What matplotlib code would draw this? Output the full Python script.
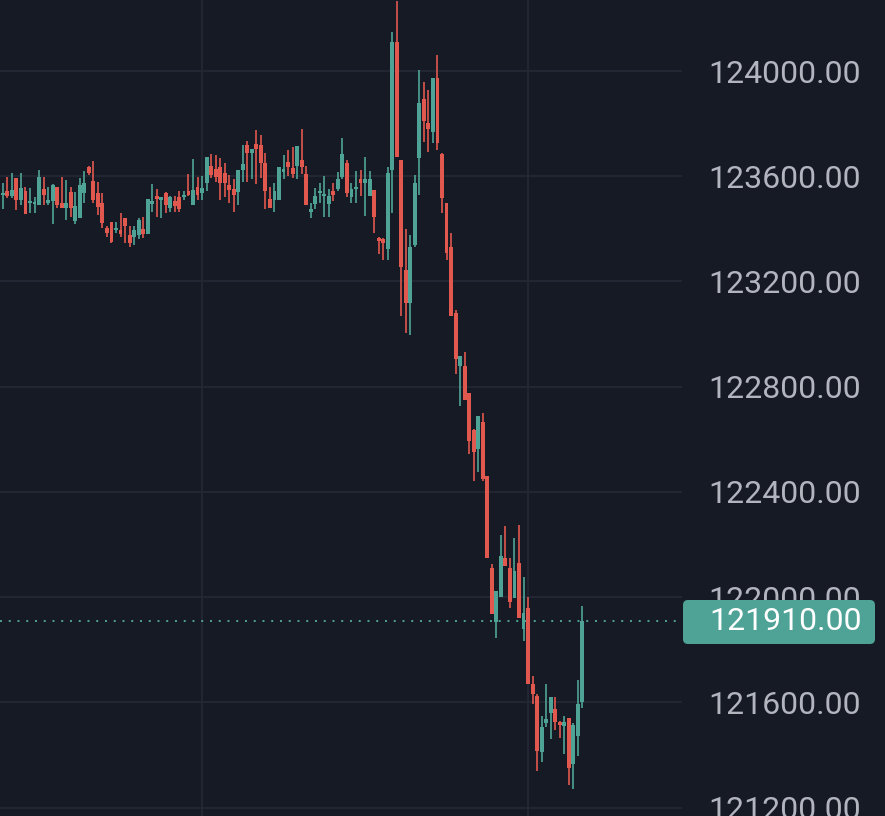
import matplotlib
matplotlib.use("Agg")
import matplotlib.pyplot as plt
from matplotlib.patches import FancyBboxPatch
from matplotlib.transforms import IdentityTransform
import numpy as np

opens = [123528, 123545, 123525, 123595, 123510, 123545, 123498, 123495, 123490, 123550,
         123500, 123505, 123560, 123500, 123480, 123540, 123430, 123440, 123536, 123635,
         123582, 123536, 123498, 123402, 123425, 123395, 123395, 123440, 123375, 123370,
         123375, 123400, 123380, 123495, 123525, 123510, 123536, 123480, 123505, 123520,
         123520, 123545, 123490, 123558, 123535, 123575, 123640, 123627, 123635, 123612,
         123566, 123550, 123540, 123625, 123720, 123690, 123722, 123720, 123650, 123515,
         123510, 123510, 123615, 123655, 123630, 123640, 123660, 123610, 123465, 123495,
         123535, 123525, 123495, 123545, 123550, 123597, 123650, 123520, 123550, 123590,
         123575, 123525, 123547, 123365, 123360, 123325, 123623, 124110, 123661, 123245,
         123120, 123338, 123669, 123893, 123802, 123768, 123973, 123684, 123500, 123330,
         123080, 122880, 122880, 122775, 122634, 122565, 122665, 122460, 122112, 121907,
         122000, 122150, 122110, 121998, 122128, 121880, 121960, 121670, 121625, 121410,
         121520, 121560, 121575, 121525, 121510, 121540, 121365, 121473, 121600]
highs = [123575, 123597, 123612, 123595, 123612, 123560, 123555, 123520, 123625, 123597,
         123560, 123570, 123560, 123597, 123585, 123560, 123540, 123593, 123620, 123640,
         123657, 123577, 123536, 123410, 123425, 123425, 123460, 123440, 123410, 123410,
         123440, 123445, 123515, 123570, 123550, 123520, 123540, 123525, 123525, 123545,
         123545, 123610, 123665, 123597, 123600, 123672, 123685, 123680, 123670, 123650,
         123605, 123590, 123625, 123720, 123735, 123705, 123775, 123755, 123690, 123560,
         123575, 123635, 123680, 123700, 123710, 123715, 123780, 123640, 123500, 123555,
         123575, 123600, 123550, 123575, 123615, 123745, 123660, 123575, 123620, 123625,
         123675, 123620, 123547, 123370, 123365, 123635, 124150, 124265, 123661, 123400,
         123375, 123605, 124005, 123958, 123928, 123973, 124060, 123690, 123500, 123385,
         123090, 122915, 122930, 122775, 122640, 122690, 122700, 122460, 122127, 122025,
         122235, 122270, 122150, 122225, 122275, 122075, 122000, 121700, 121630, 121550,
         121670, 121620, 121620, 121530, 121550, 121540, 121520, 121685, 121965]
lows = [123475, 123517, 123517, 123470, 123490, 123455, 123462, 123460, 123490, 123490,
        123490, 123420, 123480, 123480, 123435, 123445, 123420, 123440, 123500, 123605,
        123500, 123452, 123402, 123370, 123345, 123383, 123370, 123345, 123330, 123340,
        123360, 123365, 123380, 123465, 123445, 123440, 123460, 123465, 123465, 123465,
        123510, 123525, 123490, 123510, 123510, 123545, 123595, 123580, 123510, 123520,
        123500, 123465, 123490, 123580, 123580, 123590, 123570, 123595, 123475, 123480,
        123465, 123510, 123590, 123600, 123595, 123590, 123610, 123490, 123440, 123475,
        123500, 123445, 123445, 123505, 123545, 123590, 123520, 123500, 123500, 123525,
        123450, 123525, 123383, 123305, 123280, 123280, 123460, 123673, 123070, 123005,
        122995, 123330, 123528, 123730, 123692, 123725, 123700, 123460, 123280, 123070,
        122850, 122725, 122750, 122545, 122440, 122475, 122440, 122147, 121937, 121845,
        122000, 122120, 121960, 121998, 121920, 121835, 121670, 121595, 121340, 121375,
        121505, 121460, 121495, 121465, 121405, 121285, 121270, 121395, 121580]
closes = [123536, 123525, 123548, 123510, 123555, 123455, 123502, 123500, 123597, 123530,
          123510, 123565, 123490, 123480, 123500, 123480, 123485, 123566, 123574, 123612,
          123510, 123482, 123421, 123383, 123350, 123400, 123380, 123410, 123345, 123395,
          123433, 123380, 123515, 123505, 123515, 123520, 123490, 123520, 123485, 123475,
          123530, 123530, 123547, 123530, 123555, 123672, 123605, 123598, 123575, 123575,
          123547, 123530, 123625, 123645, 123690, 123705, 123705, 123650, 123545, 123480,
          123545, 123635, 123627, 123635, 123610, 123715, 123635, 123490, 123475, 123525,
          123545, 123530, 123525, 123530, 123590, 123685, 123535, 123550, 123560, 123575,
          123590, 123590, 123444, 123355, 123345, 123612, 124110, 123673, 123255, 123120,
          123330, 123574, 123878, 123810, 123780, 123973, 123725, 123517, 123307, 123070,
          122905, 122915, 122750, 122595, 122550, 122690, 122450, 122147, 121937, 122025,
          122158, 122120, 121980, 122100, 121920, 121940, 121670, 121630, 121415, 121505,
          121535, 121620, 121525, 121515, 121525, 121350, 121515, 121595, 121910]

price_ticks = [124000, 123600, 123200, 122800, 122400, 122000, 121600, 121200]
last_price = closes[-1]

BG = "#161a25"
UP = "#4fa396"
DOWN = "#e0584e"
GRID = "#252935"
LABEL = "#b2b5be"

fig = plt.figure(figsize=(8.85, 8.16), dpi=100, facecolor=BG)
ax = fig.add_axes([0, 0, 682 / 885, 1])
ax.set_facecolor(BG)

x = np.arange(len(closes))
o = np.array(opens)
c = np.array(closes)
colors = [UP if cc >= oo else DOWN for oo, cc in zip(o, c)]

ax.vlines(x, lows, highs, colors=colors, linewidth=1.2, zorder=3)
bottom = np.minimum(o, c)
height = np.maximum(np.abs(c - o), 7)
ax.bar(x, height, bottom=bottom, width=0.86, color=colors, zorder=4)

ax.set_xlim(-0.62, 150.0)
ax.set_ylim(121168, 124270)

ax.set_yticks(price_ticks)
ax.set_yticklabels([f"{p:.2f}" for p in price_ticks])
ax.yaxis.tick_right()
ax.tick_params(axis="y", length=0, pad=19, labelsize=23, labelcolor=LABEL)
for lab in ax.get_yticklabels():
    lab.set_fontfamily("Roboto")
ax.set_xticks([44, 116])
ax.tick_params(axis="x", length=0, labelbottom=False)
ax.grid(True, color=GRID, linewidth=1.2, zorder=0)
for s in ax.spines.values():
    s.set_visible(False)

ax.axhline(last_price, color=UP, linestyle=(0, (1, 3.5)), linewidth=1.4, zorder=2)

# last price tag on the price scale
tag = FancyBboxPatch((683, 816 - 644), 192, 44, boxstyle="round,pad=0,rounding_size=5",
                     transform=IdentityTransform(), facecolor=UP, edgecolor="none")
fig.patches.append(tag)
fig.text(709 / 885, 1 - 622 / 816, f"{last_price:.2f}", color="white", fontsize=23,
         fontfamily="Roboto", ha="left", va="center")

fig.savefig("out.png", dpi=100, facecolor=BG)
